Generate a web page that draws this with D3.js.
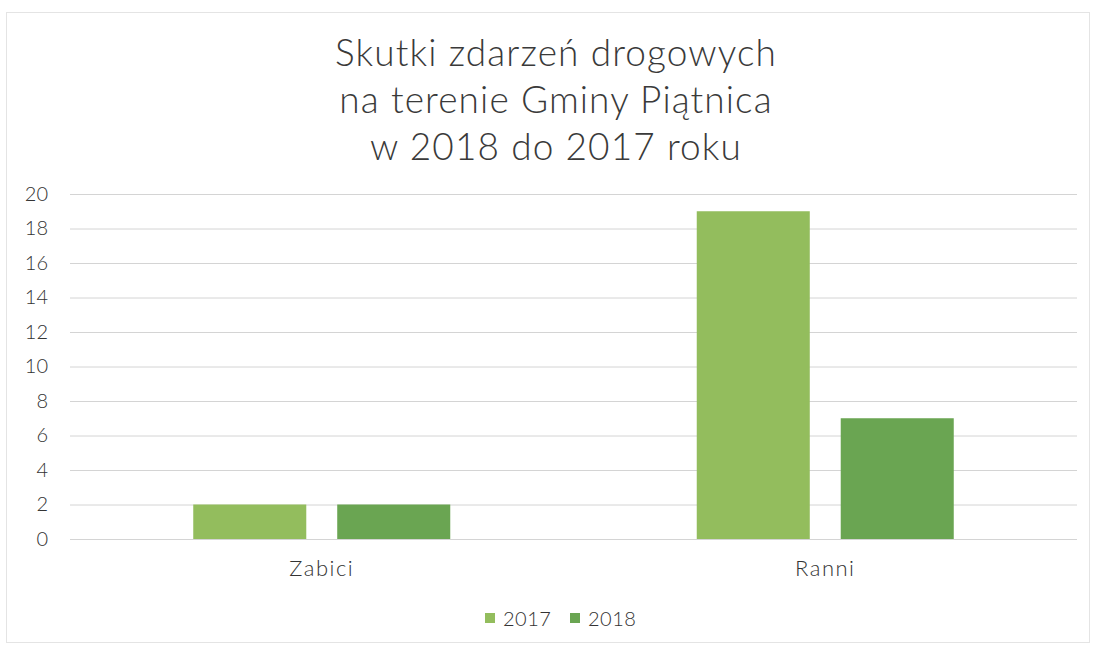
<!DOCTYPE html>
<html><head><meta charset="utf-8">
<script src="https://cdn.jsdelivr.net/npm/d3@7"></script>
<style>body{margin:0;background:#fff}</style>
</head><body>
<svg id="c" width="1097" height="646"></svg>
<script>
const categories = ["Zabici", "Ranni"];
const seriesNames = ["2017", "2018"];
const values2017 = [2, 19];
const values2018 = [2, 7];
const yTicks = [0, 2, 4, 6, 8, 10, 12, 14, 16, 18, 20];
const titleLines = ["Skutki zdarzeń drogowych", "na terenie Gminy Piątnica", "w 2018 do 2017 roku"];
const colors = ["#93bd5d", "#6aa552"];

const svg = d3.select("#c");
const font = "Lato, 'Open Sans', sans-serif";
const m = {left: 70, right: 1077, top: 194, bottom: 539};

svg.append("rect").attr("x", 6.5).attr("y", 12.5).attr("width", 1083).attr("height", 630)
  .attr("fill", "none").attr("stroke", "#e4e4e4");

svg.append("g").selectAll("text").data(titleLines).join("text")
  .attr("x", 556).attr("y", (d, i) => 66 + i * 47)
  .attr("text-anchor", "middle").attr("font-family", font).attr("font-weight", 300)
  .attr("font-size", 37).attr("letter-spacing", 1.1).attr("fill", "#3a3a3a").text(d => d);

const y = d3.scaleLinear().domain([0, 20]).range([m.bottom, m.top]);
const x0 = d3.scaleBand().domain(categories).range([m.left, m.right]).paddingInner(0).paddingOuter(0);
const x1 = d3.scaleBand().domain(seriesNames).range([0, 257]).paddingInner(0.215);

const yAxis = d3.axisLeft(y).tickValues(yTicks).tickSize(-(m.right - m.left)).tickPadding(22);
const gy = svg.append("g").attr("transform", `translate(${m.left},0)`).call(yAxis);
gy.select(".domain").remove();
gy.selectAll(".tick line").attr("stroke", "#d4d4d4").attr("stroke-width", 1);
gy.selectAll(".tick text").attr("font-family", font).attr("font-weight", 300)
  .attr("font-size", 20).attr("fill", "#333").attr("text-anchor", "end");

const data = categories.map((c, i) => ({cat: c, vals: [values2017[i], values2018[i]]}));
const groups = svg.append("g").selectAll("g").data(data).join("g")
  .attr("transform", d => `translate(${x0(d.cat) + x0.bandwidth() / 2 - 128.5},0)`);
groups.selectAll("rect").data(d => d.vals.map((v, j) => ({s: seriesNames[j], v, j}))).join("rect")
  .attr("x", d => x1(d.s)).attr("width", x1.bandwidth())
  .attr("y", d => y(d.v)).attr("height", d => y(0) - y(d.v))
  .attr("fill", d => colors[d.j]);

const xAxis = d3.axisBottom(x0).tickSize(0).tickPadding(21);
const gx = svg.append("g").attr("transform", `translate(0,${m.bottom})`).call(xAxis);
gx.select(".domain").remove();
gx.selectAll(".tick text").attr("font-family", font).attr("font-weight", 300)
  .attr("font-size", 22).attr("letter-spacing", 1.5).attr("fill", "#333");

const leg = svg.append("g").attr("transform", "translate(485,619)");
const items = leg.selectAll("g").data(seriesNames).join("g")
  .attr("transform", (d, i) => `translate(${i * 85},0)`);
items.append("rect").attr("x", 0).attr("y", -6).attr("width", 10).attr("height", 10)
  .attr("fill", (d, i) => colors[i]);
items.append("text").attr("x", 18).attr("y", 7)
  .attr("font-family", font).attr("font-weight", 300).attr("font-size", 20).attr("letter-spacing", 0.5).attr("fill", "#333")
  .text(d => d);
</script>
</body></html>
